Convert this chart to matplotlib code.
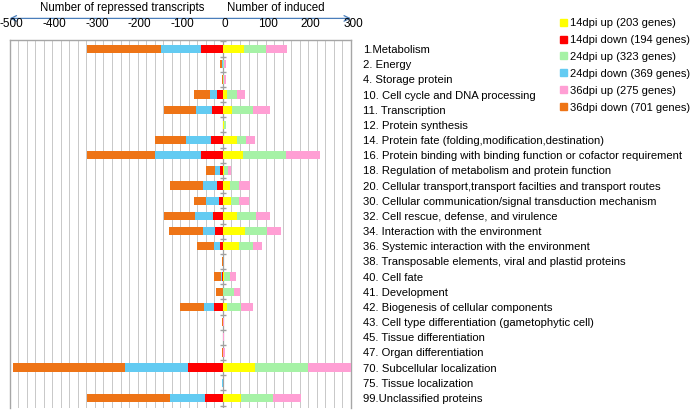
import matplotlib
matplotlib.use('Agg')
import matplotlib.pyplot as plt
from matplotlib.patches import Patch

plt.rcParams['font.family'] = ['Liberation Sans', 'DejaVu Sans']

# --- data ---
categories = [
    '1.Metabolism', '2. Energy', '4. Storage protein',
    '10. Cell cycle and DNA processing', '11. Transcription',
    '12. Protein synthesis',
    '14. Protein fate (folding,modification,destination)',
    '16. Protein binding with binding function or cofactor requirement',
    '18. Regulation of metabolism and protein function',
    '20. Cellular transport,transport facilties and transport routes',
    '30. Cellular communication/signal transduction mechanism',
    '32. Cell rescue, defense, and virulence',
    '34. Interaction with the environment',
    '36. Systemic interaction with the environment',
    '38. Transposable elements, viral and plastid proteins',
    '40. Cell fate', '41. Development',
    '42. Biogenesis of cellular components',
    '43. Cell type differentiation (gametophytic cell)',
    '45. Tissue differentiation', '47. Organ differentiation',
    '70. Subcellular localization', '75. Tissue localization',
    '99.Unclassified proteins',
]

down14 = [52, 1, 1, 13, 25, 0, 29, 52, 7, 13, 9, 23, 19, 8, 0, 2, 0, 20, 0, 0, 0, 82, 0, 42]
down24 = [94, 2, 0, 17, 37, 0, 57, 108, 12, 33, 31, 42, 28, 13, 0, 2, 0, 25, 0, 1, 0, 148, 2, 83]
down36 = [172, 4, 2, 38, 77, 0, 74, 158, 20, 78, 27, 74, 80, 39, 2, 18, 17, 56, 3, 0, 3, 262, 0, 194]
up14 = [49, 1, 1, 10, 22, 2, 32, 48, 2, 16, 18, 34, 52, 37, 0, 2, 1, 10, 0, 0, 0, 74, 0, 43]
up24 = [51, 2, 2, 22, 48, 4, 21, 99, 10, 21, 20, 43, 51, 33, 0, 15, 26, 33, 0, 0, 1, 125, 1, 75]
up36 = [51, 4, 4, 19, 40, 1, 21, 80, 6, 26, 23, 34, 33, 22, 1, 14, 13, 27, 3, 2, 3, 104, 0, 64]

legend_labels = ['14dpi up (203 genes)', '14dpi down (194 genes)',
                 '24dpi up (323 genes)', '24dpi down (369 genes)',
                 '36dpi up (275 genes)', '36dpi down (701 genes)']
top_ticks = [-500, -400, -300, -200, -100, 0, 100, 200, 300]

c_up14, c_down14 = '#FFFF00', '#FF0000'
c_up24, c_down24 = '#A6F2A6', '#63CBF2'
c_up36, c_down36 = '#FF9FD4', '#EE7416'

fig = plt.figure(figsize=(6.99, 4.12), dpi=100)
ax = fig.add_axes([0.0137, 0.0097, 0.4884, 0.893])

y = list(range(len(categories)))
h = 0.55

# negative side: 14dpi next to zero, then 24dpi, then 36dpi
neg14 = [-v for v in down14]
neg24 = [-v for v in down24]
neg36 = [-v for v in down36]
left24 = neg14
left36 = [a + b for a, b in zip(neg14, neg24)]
ax.barh(y, neg14, height=h, color=c_down14, zorder=3)
ax.barh(y, neg24, left=left24, height=h, color=c_down24, zorder=3)
ax.barh(y, neg36, left=left36, height=h, color=c_down36, zorder=3)

left_up24 = up14
left_up36 = [a + b for a, b in zip(up14, up24)]
ax.barh(y, up14, height=h, color=c_up14, zorder=3)
ax.barh(y, up24, left=left_up24, height=h, color=c_up24, zorder=3)
ax.barh(y, up36, left=left_up36, height=h, color=c_up36, zorder=3)

ax.set_xlim(-500, 300)
ax.set_ylim(len(categories) - 1 + 0.66, -0.59)

# vertical grid
for gx in range(-500, 301, 20):
    ax.axvline(gx, color='#C8C8C8', lw=0.7, zorder=1)
ax.axvline(0, color='#A0A0A0', lw=0.9, zorder=2)
ax.plot([0] * (len(categories) + 1), [i - 0.5 for i in range(len(categories) + 1)],
        linestyle='none', marker='_', color='#A0A0A0', markersize=5, zorder=2)

ax.set_xticks([])
ax.yaxis.tick_right()
ax.set_yticks(y)
ax.set_yticklabels(categories, fontsize=8.1)
ax.tick_params(axis='y', length=0, pad=8.5)
for s in ['left', 'top', 'right']:
    ax.spines[s].set_color('#A6A6A6')
    ax.spines[s].set_linewidth(1.0)
ax.spines['bottom'].set_visible(False)

# --- top arrow axis ---
ax_top = fig.add_axes([0.0137, 0.905, 0.4884, 0.095])
ax_top.set_xlim(-500, 300)
ax_top.set_ylim(0, 1)
ax_top.axis('off')
ax_top.annotate('', xy=(-500, 0.53), xytext=(300, 0.53),
                arrowprops=dict(arrowstyle='<->', color='#4A7EBB', lw=0.9,
                                shrinkA=0, shrinkB=0))
for t in top_ticks:
    ax_top.text(t + 5, 0.38, str(t), ha='center', va='center', fontsize=8.5)
ax_top.text(-237, 0.80, 'Number of repressed transcripts', ha='center',
            va='center', fontsize=8.3)
ax_top.text(124, 0.80, 'Number of induced', ha='center', va='center', fontsize=8.3)

# --- legend ---
handles = [Patch(color=c) for c in [c_up14, c_down14, c_up24, c_down24, c_up36, c_down36]]
fig.legend(handles, legend_labels, loc='upper left', bbox_to_anchor=(0.79, 0.975),
           frameon=False, fontsize=8, handlelength=0.6, handleheight=0.6,
           handletextpad=0.3, labelspacing=0.62, borderpad=0.2)

fig.savefig('out.png', dpi=100)
